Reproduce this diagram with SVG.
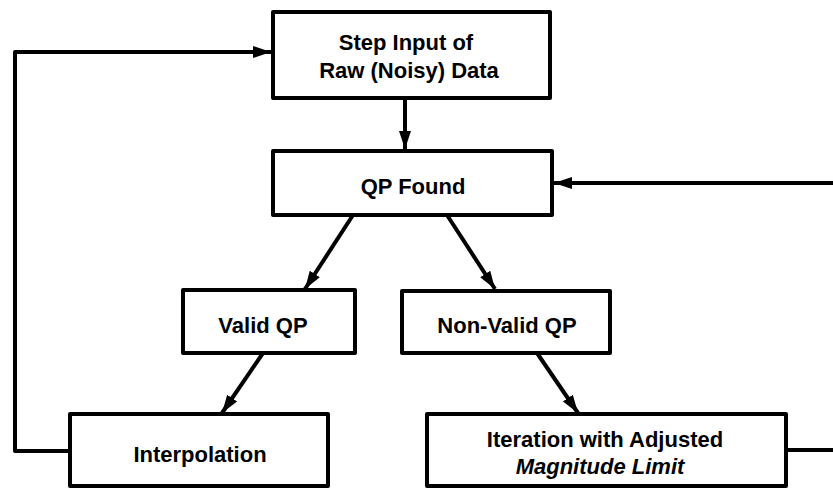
<svg xmlns="http://www.w3.org/2000/svg" width="833" height="489" viewBox="0 0 833 489">
<defs>
<marker id="ah" markerUnits="userSpaceOnUse" markerWidth="20" markerHeight="14" refX="18" refY="7" orient="auto">
<path d="M0,1 L18,7 L0,13 Z" fill="#000"/>
</marker>
<style>
.box{fill:#fff;stroke:#000;stroke-width:4;stroke-linejoin:round}
.ln{fill:none;stroke:#000;stroke-width:4;stroke-linejoin:round}
.t{font-family:"Liberation Sans",Arial,sans-serif;font-weight:bold;font-size:22px;text-anchor:middle;fill:#000}
.it{font-style:italic}
</style>
</defs>
<rect width="833" height="489" fill="#fff"/>
<g id="connectors">
<path class="ln" d="M70,451 L15,451 L15,52 L271,52" marker-end="url(#ah)"/>
<path class="ln" d="M405,98 L405,149" marker-end="url(#ah)"/>
<path class="ln" d="M833,183 L554,183" marker-end="url(#ah)"/>
<path class="ln" d="M353,215 L305,289" marker-end="url(#ah)"/>
<path class="ln" d="M447,215 L495,289" marker-end="url(#ah)"/>
<path class="ln" d="M263,353 L222,413" marker-end="url(#ah)"/>
<path class="ln" d="M537,353 L578,413" marker-end="url(#ah)"/>
<path class="ln" d="M786,450 L833,450"/>
</g>
<g id="step-input">
<rect class="box" x="273" y="12" width="277" height="86"/>
<text class="t" x="406" y="50">Step Input of</text>
<text class="t" x="409" y="78">Raw (Noisy) Data</text>
</g>
<g id="qp-found">
<rect class="box" x="273" y="151" width="279" height="64"/>
<text class="t" x="413" y="194">QP Found</text>
</g>
<g id="valid-qp">
<rect class="box" x="183" y="290" width="172" height="63"/>
<text class="t" x="263" y="333">Valid QP</text>
</g>
<g id="non-valid-qp">
<rect class="box" x="402" y="291" width="208" height="62"/>
<text class="t" x="507" y="333">Non-Valid QP</text>
</g>
<g id="interpolation">
<rect class="box" x="70" y="414" width="258" height="72"/>
<text class="t" x="200" y="462">Interpolation</text>
</g>
<g id="iteration">
<rect class="box" x="427" y="414" width="359" height="72"/>
<text class="t" x="605" y="447">Iteration with Adjusted</text>
<text class="t it" x="600" y="474">Magnitude Limit</text>
</g>
</svg>
